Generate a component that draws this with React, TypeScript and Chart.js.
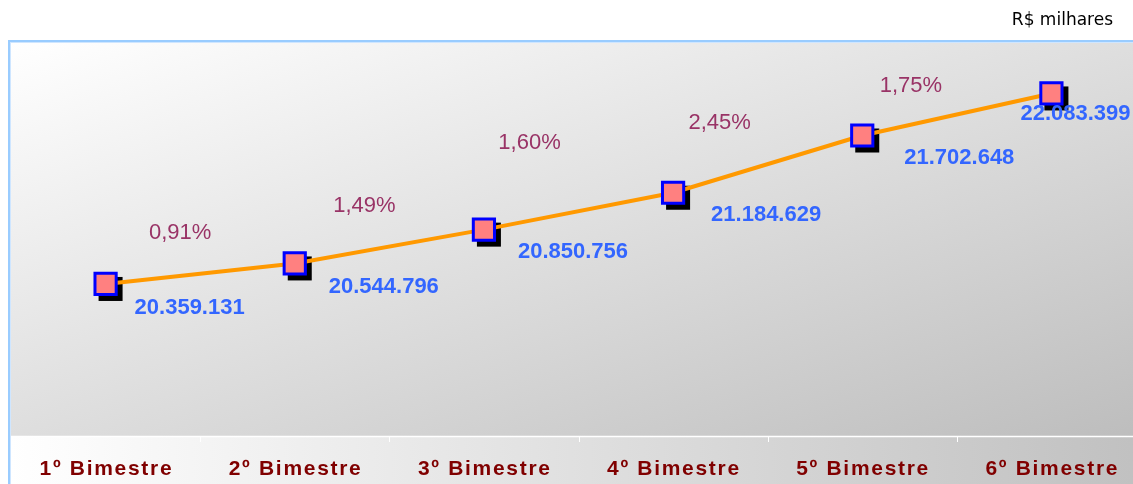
import React, { useEffect, useRef } from 'react';
import { Chart, registerables } from 'chart.js';

Chart.register(...registerables);

// ---------- data ----------
const categories = ['1º Bimestre', '2º Bimestre', '3º Bimestre', '4º Bimestre', '5º Bimestre', '6º Bimestre'];
const values = [20359131, 20544796, 20850756, 21184629, 21702648, 22083399];
const valueLabels = ['20.359.131', '20.544.796', '20.850.756', '21.184.629', '21.702.648', '22.083.399'];
const growthLabels = ['0,91%', '1,49%', '1,60%', '2,45%', '1,75%'];
const unitLabel = 'R$ milhares';
const yMin = 18983000;
const yMax = 22540000;

// ---------- label layout (pixel offsets, style only) ----------
const valueLabelOffsets = [[29, 24], [34, 23], [34, 22], [38, 22], [42, 22], [-31, 20]];
const growthLabelOffsets = [[-20, -41], [-25, -41], [-49, -68], [-48, -41], [-46, -29]];

const CANVAS_W = 1160;
const CANVAS_H = 484;
const FONT = '"Liberation Sans", Arial, sans-serif';

const decorPlugin = {
  id: 'decor',
  beforeDraw(chart: any) {
    const ctx = chart.ctx as CanvasRenderingContext2D;
    const { left, top, right, bottom } = chart.chartArea;
    const W = chart.width;
    const H = chart.height;
    ctx.save();
    ctx.fillStyle = '#ffffff';
    ctx.fillRect(0, 0, W, H);

    // outer chart area gradient
    const og = ctx.createLinearGradient(10, 0, 1150, 0);
    og.addColorStop(0, '#ffffff');
    og.addColorStop(1, '#c0c0c0');
    ctx.fillStyle = og;
    ctx.fillRect(10, 41, W, H);

    // border
    ctx.fillStyle = '#99ccff';
    ctx.fillRect(8, 40, W, 2);
    ctx.fillRect(8, 40, 2, H);
    ctx.fillStyle = '#cfe6ff';
    ctx.fillRect(10, 42, W, 1);
    ctx.fillRect(10, 42, 1, H);

    // plot area diagonal gradient (normalized box)
    ctx.save();
    ctx.translate(left, top);
    ctx.scale(right - left, bottom - top);
    const pg = ctx.createLinearGradient(0, 0, 1, 1);
    pg.addColorStop(0, '#ffffff');
    pg.addColorStop(1, '#bdbdbd');
    ctx.fillStyle = pg;
    ctx.fillRect(0, 0, 1, 1);
    ctx.restore();

    // axis line + ticks
    const xs = chart.scales.x;
    ctx.strokeStyle = '#ffffff';
    ctx.lineWidth = 1.5;
    ctx.beginPath();
    ctx.moveTo(left, bottom + 0.5);
    ctx.lineTo(right, bottom + 0.5);
    ctx.stroke();
    ctx.lineWidth = 1;
    ctx.beginPath();
    for (let i = 1; i < categories.length; i++) {
      const bx = Math.round((xs.getPixelForValue(i - 1) + xs.getPixelForValue(i)) / 2) + 0.5;
      ctx.moveTo(bx, bottom);
      ctx.lineTo(bx, bottom + 6);
    }
    ctx.stroke();

    // unit label
    ctx.fillStyle = '#000000';
    ctx.font = '17px "DejaVu Sans", sans-serif';
    ctx.textAlign = 'right';
    ctx.textBaseline = 'middle';
    ctx.fillText(unitLabel, 1113, 21);

    // category labels
    ctx.fillStyle = '#800000';
    ctx.font = `bold 21px ${FONT}`;
    (ctx as any).letterSpacing = '1.7px';
    ctx.textAlign = 'center';
    categories.forEach((c, i) => {
      ctx.fillText(c, xs.getPixelForValue(i) + 0.85, 469);
    });
    ctx.restore();
  },
  beforeDatasetsDraw(chart: any) {
    const ctx = chart.ctx as CanvasRenderingContext2D;
    const meta = chart.getDatasetMeta(0);
    ctx.save();
    ctx.fillStyle = '#000000';
    const s = 24;
    meta.data.forEach((pt: any) => {
      ctx.fillRect(pt.x - s / 2 + 5, pt.y - s / 2 + 5, s, s);
    });
    ctx.restore();
  },
  afterDatasetsDraw(chart: any) {
    const ctx = chart.ctx as CanvasRenderingContext2D;
    const meta = chart.getDatasetMeta(0);
    ctx.save();
    ctx.textBaseline = 'middle';
    // value labels
    ctx.font = `bold 22px ${FONT}`;
    ctx.fillStyle = '#3366ff';
    ctx.textAlign = 'left';
    meta.data.forEach((pt: any, i: number) => {
      const [dx, dy] = valueLabelOffsets[i];
      ctx.fillText(valueLabels[i], pt.x + dx, pt.y + dy);
    });
    // growth labels
    ctx.font = `22px ${FONT}`;
    ctx.fillStyle = '#993366';
    ctx.textAlign = 'center';
    growthLabels.forEach((g, i) => {
      const a = meta.data[i];
      const b = meta.data[i + 1];
      const [dx, dy] = growthLabelOffsets[i];
      ctx.fillText(g, (a.x + b.x) / 2 + dx, (a.y + b.y) / 2 + dy);
    });
    ctx.restore();
  },
};

export default function App() {
  const ref = useRef<HTMLCanvasElement | null>(null);
  useEffect(() => {
    if (!ref.current) return;
    const chart = new Chart(ref.current, {
      type: 'line',
      data: {
        labels: categories,
        datasets: [
          {
            data: values,
            borderColor: '#ff9900',
            borderWidth: 4,
            tension: 0,
            fill: false,
            clip: false as any,
            pointStyle: 'rect',
            pointRadius: 15,
            pointHoverRadius: 15,
            pointBackgroundColor: '#ff8080',
            pointBorderColor: '#0000ff',
            pointBorderWidth: 3,
          },
        ],
      },
      options: {
        responsive: false,
        animation: false,
        devicePixelRatio: 1,
        events: [],
        layout: { autoPadding: false, padding: { left: 11, top: 43, right: 14, bottom: 48 } },
        plugins: {
          legend: { display: false },
          tooltip: { enabled: false },
          title: { display: false },
        },
        scales: {
          x: { type: 'category', display: false, offset: true },
          y: { display: false, min: yMin, max: yMax },
        },
      },
      plugins: [decorPlugin],
    });
    return () => chart.destroy();
  }, []);

  return (
    <div
      style={{
        position: 'fixed',
        left: 0,
        top: 0,
        width: 1133,
        height: 484,
        overflow: 'hidden',
        background: '#ffffff',
      }}
    >
      <canvas
        ref={ref}
        width={CANVAS_W}
        height={CANVAS_H}
        style={{ display: 'block', width: CANVAS_W, height: CANVAS_H }}
      />
    </div>
  );
}
